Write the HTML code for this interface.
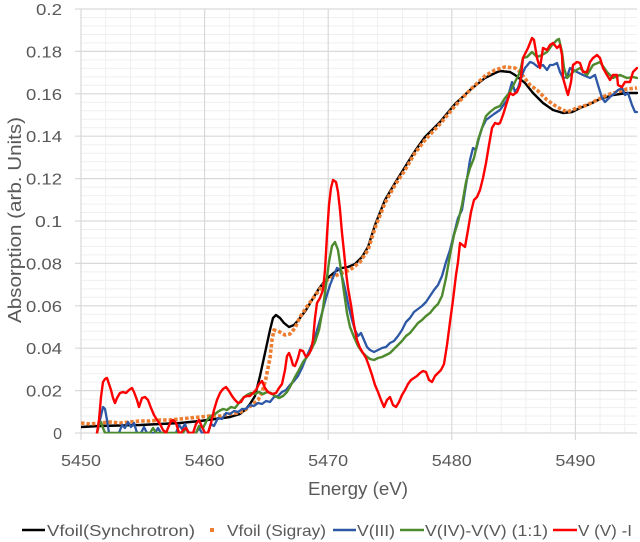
<!DOCTYPE html>
<html><head><meta charset="utf-8"><style>
html,body{margin:0;padding:0;background:#fff;}
svg{display:block;}
text{font-family:"Liberation Sans",Arial,sans-serif;fill:#595959;}
</style></head><body>
<svg width="640" height="542" viewBox="0 0 640 542" xmlns="http://www.w3.org/2000/svg">
<rect width="640" height="542" fill="#fff"/>
<!-- minor grid -->
<g stroke="#efefef" stroke-width="1">
<path d="M81,424.5H637M81,416H637M81,407.6H637M81,399.1H637M81,382.1H637M81,373.7H637M81,365.2H637M81,356.7H637M81,339.7H637M81,331.3H637M81,322.8H637M81,314.3H637M81,297.3H637M81,288.9H637M81,280.4H637M81,271.9H637M81,254.9H637M81,246.5H637M81,238H637M81,229.5H637M81,212.5H637M81,204.1H637M81,195.6H637M81,187.1H637M81,170.1H637M81,161.7H637M81,153.2H637M81,144.7H637M81,127.7H637M81,119.3H637M81,110.8H637M81,102.3H637M81,85.3H637M81,76.9H637M81,68.4H637M81,59.9H637M81,42.9H637M81,34.5H637M81,26H637M81,17.5H637"/>
<path d="M105.7,9V433M130.4,9V433M155.2,9V433M179.9,9V433M229.3,9V433M254,9V433M278.8,9V433M303.5,9V433M352.9,9V433M377.6,9V433M402.4,9V433M427.1,9V433M476.5,9V433M501.2,9V433M526,9V433M550.7,9V433M600.1,9V433M624.8,9V433"/>
</g>
<!-- major grid -->
<g stroke="#d9d9d9" stroke-width="1.2">
<path d="M75,390.6H637M75,348.2H637M75,305.8H637M75,263.4H637M75,221H637M75,178.6H637M75,136.2H637M75,93.8H637M75,51.4H637M75,9H637"/>
<path d="M204.6,9V440M328.2,9V440M451.8,9V440M575.4,9V440"/>
<path d="M81,9V440M75,433H637"/>
</g>
<defs><clipPath id="pc"><rect x="81" y="8" width="557" height="425.5"/></clipPath></defs>
<g clip-path="url(#pc)" fill="none" stroke-linejoin="round" stroke-linecap="round">
<!-- black -->
<polyline stroke="#000" stroke-width="2.4" points="81,427 100,426 120,425.5 140,425 160,424 180,423 200,421 215,419 230,417 240,414 245,410 250,404 255,396 260,376 265,353 270,330 273,318 276,315 280,318 284,323 289,327 294,325 300,318 306,310 312,300 318,290 324,282 330,276 336,271 342,268 348,267 355,264 362,257 368,247 375,225 385,200 395,183 405,167 415,151 425,137 440,122 455,104 470,90 485,78 495,73 500,71 510,72 515,75 525,83 533,93 543,103 553,110 563,113 572,112 580,108 590,104 600,99 613,95 627,93 637,93"/>
<!-- orange -->
<polyline stroke="#ed7d31" stroke-width="3.6" stroke-linecap="butt" stroke-dasharray="3.5 2" points="81,423 90,424 100,423 110,422 120,423 130,422 140,421 150,421 160,420 170,420 180,419 190,418 200,417 210,416 220,416 230,414 238,413 245,410 252,405 258,400 262,393 266,378 270,358 272,340 274,330 278,331 285,335 290,334 295,328 300,317 308,305 317,293 327,280 337,275 350,270 360,262 368,250 375,228 385,203 395,185 405,170 415,153 425,140 440,124 455,106 470,90 485,76 495,70 505,67 515,68 520,72 530,85 537,90 547,100 557,107 567,112 577,108 587,105 597,100 607,95 617,92 627,89 637,88"/>
<!-- blue -->
<polyline stroke="#2e58a6" stroke-width="2.3" points="97,433 100,420 103,407 105,409 107,420 109,433 119,433 122,425 125,428 128,422 131,427 134,423 137,433 141,433 144,427 147,433 155,433 158,428 161,433 176,433 179,425 182,429 185,424 188,433 196,433 199,428 202,433 208,433 211,424 214,426 218,418 222,419 226,413 230,414 234,411 238,412 242,409 246,409 250,405 254,406 258,403 262,404 266,401 270,402 274,397 278,396 282,392 286,390 290,385 294,381 298,376 302,368 306,358 310,349 314,340 318,327 322,313 326,298 330,285 334,275 337,268 340,270 343,280 346,293 349,308 352,320 355,330 358,336 361,333 364,340 367,347 370,350 374,352 378,350 382,348 386,347 390,343 394,341 398,336 402,330 406,322 410,318 414,312 418,309 422,306 426,302 430,296 434,290 438,285 442,276 446,262 450,250 454,234 458,218 462,210 466,185 470,160 473,148 476,150 479,138 482,128 486,120 490,117 494,114 500,110 507,100 512,82 515,92 518,88 522,75 525,68 530,62 533,63 538,67 543,65 547,70 550,65 553,65 557,63 560,72 563,78 567,77 570,68 577,72 583,75 590,78 595,75 598,85 602,98 605,102 610,97 615,93 618,90 622,88 625,95 628,93 632,105 635,112 637,112"/>
<!-- green -->
<polyline stroke="#4e8a2e" stroke-width="2.4" points="97,433 99,425 101,422 103,428 105,433 150,433 153,428 156,433 183,433 186,428 189,433 196,433 199,426 203,428 207,420 211,416 215,414 219,411 223,409 227,410 231,407 235,408 239,403 243,398 247,395 251,393 255,394 259,392 263,394 267,392 271,393 275,396 279,398 283,396 287,392 291,385 295,377 299,370 303,362 307,357 311,350 315,342 319,330 323,308 326,285 329,262 332,246 335,242 338,250 341,270 344,292 347,313 350,327 354,337 358,346 362,352 366,356 370,359 374,360 378,358 382,357 386,355 390,353 394,349 398,345 402,341 406,336 410,333 414,328 418,323 422,320 426,316 430,313 434,308 438,304 442,296 446,278 450,255 454,235 458,222 462,205 466,182 470,168 474,158 478,140 482,128 486,116 490,112 495,108 500,106 505,98 510,92 515,82 520,72 523,58 527,57 532,52 537,57 542,55 547,52 552,45 557,40 559,39 562,52 564,68 567,78 570,75 573,72 580,68 587,75 593,65 600,62 607,72 613,78 620,75 627,78 633,77 637,78"/>
<!-- red -->
<polyline stroke="#ff0000" stroke-width="2.4" points="97,433 99,420 101,397 103,382 105,379 107,378 109,384 111,390 113,398 115,403 117,398 120,393 123,392 126,393 129,390 132,388 134,392 137,400 139,407 142,398 145,397 148,400 151,408 154,415 157,420 160,424 163,430 166,433 168,428 171,421 173,420 176,423 179,433 181,433 183,430 186,428 189,433 193,433 196,424 199,420 202,427 205,433 208,433 211,423 214,410 217,400 220,393 223,389 226,387 229,391 232,396 235,400 238,403 241,402 244,397 247,396 250,396 253,393 256,390 259,384 262,381 265,388 268,392 272,394 276,393 279,388 282,384 285,370 287,356 289,353 291,358 293,365 295,366 298,358 300,350 303,351 306,357 309,354 311,350 313,340 315,318 317,303 320,298 323,290 325,270 327,235 329,205 331,188 333,180 336,182 338,192 340,210 342,233 344,252 346,272 348,288 351,305 354,325 357,340 360,348 363,353 366,358 369,366 372,375 375,385 378,392 381,400 384,407 387,400 390,397 393,405 396,407 399,402 402,395 405,390 408,384 411,380 414,378 417,376 420,373 423,371 426,372 429,380 432,382 435,376 438,373 441,370 444,364 447,345 450,322 453,300 456,275 458,262 460,243 465,247 468,230 471,212 474,200 477,197 480,190 483,178 486,163 489,145 492,128 495,123 498,124 500,123 503,115 507,102 510,93 513,95 517,92 520,85 523,58 528,48 532,38 534,40 537,58 540,68 543,48 547,50 550,45 553,43 557,48 560,45 562,55 563,78 567,92 568,95 571,82 573,65 577,62 580,63 583,72 587,72 590,62 593,58 597,55 600,58 603,68 607,75 610,80 613,75 617,75 618,85 622,87 625,82 630,82 633,72 637,68"/>
</g>
<!-- y tick labels -->
<g font-size="16" text-anchor="end">
<text x="62" y="439">0</text>
<text x="62" y="396.6" textLength="36" lengthAdjust="spacingAndGlyphs">0.02</text>
<text x="62" y="354.2" textLength="36" lengthAdjust="spacingAndGlyphs">0.04</text>
<text x="62" y="311.8" textLength="36" lengthAdjust="spacingAndGlyphs">0.06</text>
<text x="62" y="269.4" textLength="36" lengthAdjust="spacingAndGlyphs">0.08</text>
<text x="62" y="227" textLength="27" lengthAdjust="spacingAndGlyphs">0.1</text>
<text x="62" y="184.6" textLength="36" lengthAdjust="spacingAndGlyphs">0.12</text>
<text x="62" y="142.2" textLength="36" lengthAdjust="spacingAndGlyphs">0.14</text>
<text x="62" y="99.8" textLength="36" lengthAdjust="spacingAndGlyphs">0.16</text>
<text x="62" y="57.4" textLength="36" lengthAdjust="spacingAndGlyphs">0.18</text>
<text x="62" y="15" textLength="26" lengthAdjust="spacingAndGlyphs">0.2</text>
</g>
<!-- x tick labels -->
<g font-size="16" text-anchor="middle">
<text x="81" y="466" textLength="40" lengthAdjust="spacingAndGlyphs">5450</text>
<text x="204.6" y="466" textLength="40" lengthAdjust="spacingAndGlyphs">5460</text>
<text x="328.2" y="466" textLength="40" lengthAdjust="spacingAndGlyphs">5470</text>
<text x="451.8" y="466" textLength="40" lengthAdjust="spacingAndGlyphs">5480</text>
<text x="575.4" y="466" textLength="40" lengthAdjust="spacingAndGlyphs">5490</text>
</g>
<!-- axis titles -->
<text x="358" y="495" font-size="18" text-anchor="middle" textLength="100" lengthAdjust="spacingAndGlyphs">Energy (eV)</text>
<text transform="translate(21,220) rotate(-90)" font-size="18" text-anchor="middle" textLength="206" lengthAdjust="spacingAndGlyphs">Absorption (arb. Units)</text>
<!-- legend -->
<g stroke-width="2.4">
<line x1="22" y1="530" x2="45" y2="530" stroke="#000"/>
<rect x="210" y="528" width="4" height="4" fill="#ed7d31" stroke="none"/>
<line x1="333" y1="530" x2="356" y2="530" stroke="#2e58a6"/>
<line x1="400" y1="530" x2="424" y2="530" stroke="#4e8a2e"/>
<line x1="553" y1="530" x2="577" y2="530" stroke="#ff0000"/>
</g>
<g font-size="16">
<text x="47" y="536" textLength="148" lengthAdjust="spacingAndGlyphs">Vfoil(Synchrotron)</text>
<text x="227" y="536" textLength="99" lengthAdjust="spacingAndGlyphs">Vfoil (Sigray)</text>
<text x="357" y="536" textLength="38" lengthAdjust="spacingAndGlyphs">V(III)</text>
<text x="425" y="536" textLength="123" lengthAdjust="spacingAndGlyphs">V(IV)-V(V) (1:1)</text>
<text x="578" y="536" textLength="54" lengthAdjust="spacingAndGlyphs">V (V) -I</text>
</g>
</svg>
</body></html>
